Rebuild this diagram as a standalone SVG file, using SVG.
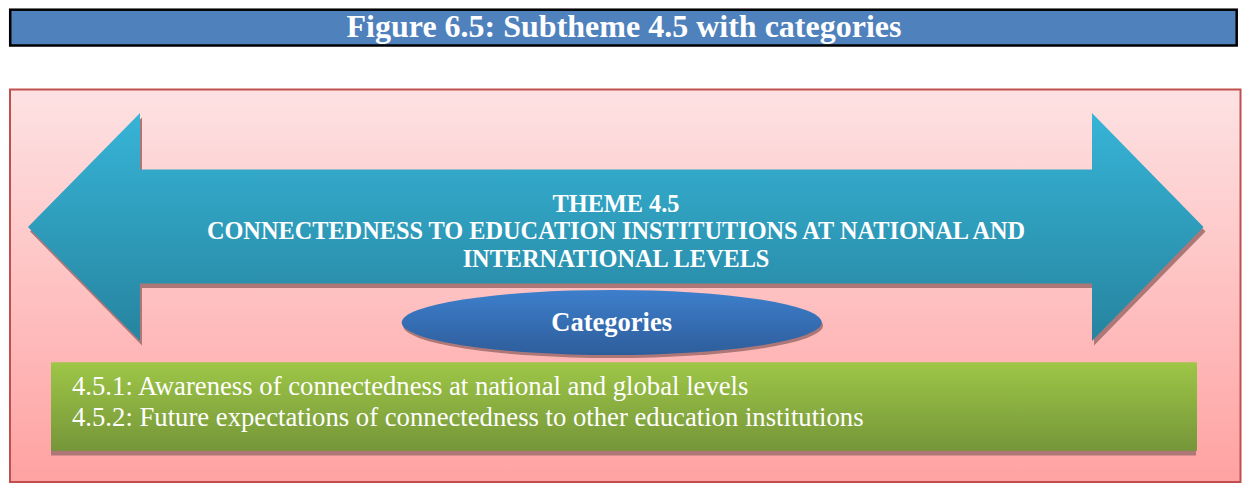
<svg xmlns="http://www.w3.org/2000/svg" width="1243" height="485" viewBox="0 0 1243 485">
<defs>
<linearGradient id="gBg" x1="0" y1="0" x2="0" y2="1"><stop offset="0" stop-color="#FDE2E3"/><stop offset="1" stop-color="#FFA2A2"/></linearGradient>
<linearGradient id="gArrow" x1="0" y1="0" x2="0" y2="1"><stop offset="0" stop-color="#37B4D7"/><stop offset="1" stop-color="#26849F"/></linearGradient>
<linearGradient id="gEll" x1="0" y1="0" x2="0" y2="1"><stop offset="0" stop-color="#3D7FCC"/><stop offset="1" stop-color="#2E5D9B"/></linearGradient>
<linearGradient id="gGreen" x1="0" y1="0" x2="0" y2="1"><stop offset="0" stop-color="#9EC647"/><stop offset="1" stop-color="#759639"/></linearGradient>
</defs>
<style>
.shadow{fill:#AD7777}
.w{fill:#FFFFFF;font-family:"Liberation Serif","Times New Roman",serif}
.b{font-weight:bold}
</style>
<g id="title">
<rect x="10.2" y="9.7" width="1226.5" height="35.8" fill="#4F81BD" stroke="#000000" stroke-width="2.5"/>
<text class="w b" x="624" y="37" font-size="32" text-anchor="middle">Figure 6.5: Subtheme 4.5 with categories</text>
</g>
<g id="panel">
<rect x="10" y="89.5" width="1230.5" height="392.5" fill="url(#gBg)" stroke="#C0504D" stroke-width="2"/>
</g>
<g id="theme">
<path class="shadow" transform="translate(2,4.5)" d="M28,227 L140,113 L140,169.5 L1092,169.5 L1092,113 L1203.5,227 L1092,341 L1092,283.5 L140,283.5 L140,341 Z"/>
<path fill="url(#gArrow)" d="M28,227 L140,113 L140,169.5 L1092,169.5 L1092,113 L1203.5,227 L1092,341 L1092,283.5 L140,283.5 L140,341 Z"/>
<text class="w b" font-size="24.3" text-anchor="middle"><tspan x="616" y="211.5">THEME 4.5</tspan><tspan x="616" y="239">CONNECTEDNESS TO EDUCATION INSTITUTIONS AT NATIONAL AND</tspan><tspan x="616" y="266.5">INTERNATIONAL LEVELS</tspan></text>
</g>
<g id="categories">
<ellipse class="shadow" cx="613" cy="325.5" rx="210" ry="32.5"/>
<ellipse cx="611.7" cy="322.5" rx="210" ry="32.5" fill="url(#gEll)"/>
<text class="w b" x="611.7" y="331" font-size="26.5" text-anchor="middle">Categories</text>
</g>
<g id="list">
<rect class="shadow" x="51" y="366.5" width="1145" height="89"/>
<rect x="51" y="362.3" width="1146" height="88.5" fill="url(#gGreen)"/>
<text class="w" font-size="26.7"><tspan x="72" y="395">4.5.1: Awareness of connectedness at national and global levels</tspan><tspan x="72" y="426">4.5.2: Future expectations of connectedness to other education institutions</tspan></text>
</g>
<g id="connectors"/>
</svg>
